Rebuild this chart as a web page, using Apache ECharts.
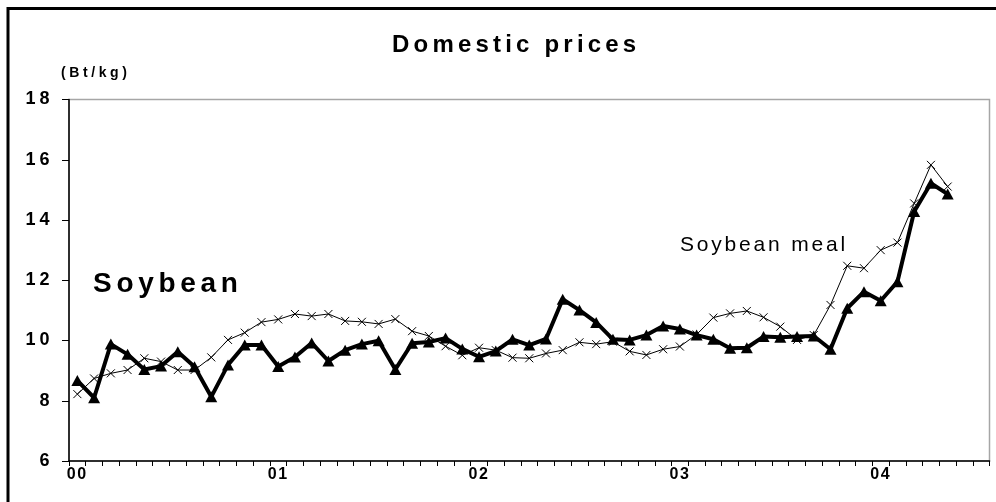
<!DOCTYPE html>
<html>
<head>
<meta charset="utf-8">
<script src="https://cdn.jsdelivr.net/npm/echarts@6/dist/echarts.min.js"></script>
<style>html,body{margin:0;padding:0;background:#fff;}#c{width:996px;height:502px;}</style>
</head>
<body>
<div id="c"></div>
<script>
// ---- data ----
const yearLabels = ['00', '01', '02', '03', '04'];
const monthsShown = 55; // Jan 2000 .. Jul 2004 on the axis
const soybean = [8.67, 8.10, 9.88, 9.54, 9.04, 9.15, 9.63, 9.13, 8.13, 9.19, 9.85, 9.85,
  9.14, 9.45, 9.92, 9.32, 9.68, 9.88, 9.99, 9.04, 9.91, 9.95, 10.08, 9.72,
  9.46, 9.65, 10.04, 9.85, 10.05, 11.37, 11.01, 10.60, 10.04, 10.02, 10.18, 10.48,
  10.38, 10.18, 10.04, 9.74, 9.76, 10.13, 10.11, 10.13, 10.15, 9.71, 11.07, 11.62,
  11.32, 11.95, 14.28, 15.22, 14.86];
const soybeanMeal = [8.22, 8.74, 8.91, 9.02, 9.41, 9.30, 9.02, 9.02, 9.44, 10.02, 10.26, 10.61,
  10.70, 10.88, 10.81, 10.88, 10.65, 10.62, 10.55, 10.71, 10.31, 10.15, 9.81, 9.51,
  9.76, 9.68, 9.43, 9.41, 9.57, 9.68, 9.94, 9.88, 9.96, 9.64, 9.52, 9.71,
  9.80, 10.20, 10.76, 10.90, 10.98, 10.77, 10.46, 10.02, 10.18, 11.18, 12.48, 12.40,
  13.00, 13.25, 14.55, 15.83, 15.11];
const yTicks = {min: 6, max: 18, interval: 2};

const categories = [];
for (let i = 0; i < monthsShown; i++) {
  categories.push(yearLabels[Math.floor(i / 12)] + '/' + (i % 12 + 1));
}

// ---- letter spacing for canvas text (by font size) ----
const spacingBySize = {24: 4.2, 28: 4.7, 21: 2.8, 14: 3.6, 16: 1.6, 18: 4};
(function () {
  const proto = CanvasRenderingContext2D.prototype;
  const d = Object.getOwnPropertyDescriptor(proto, 'font');
  if (!d || !('letterSpacing' in proto)) return;
  Object.defineProperty(proto, 'font', {
    configurable: true,
    get: function () { return d.get.call(this); },
    set: function (v) {
      d.set.call(this, v);
      const m = /(\d+(?:\.\d+)?)px/.exec(v);
      const s = m ? spacingBySize[Math.round(parseFloat(m[1]))] : 0;
      this.letterSpacing = (s || 0) + 'px';
    }
  });
})();

const FONT = "Liberation Sans";
const chart = echarts.init(document.getElementById('c'), null, {renderer: 'canvas'});
chart.setOption({
  backgroundColor: '#fff',
  animation: false,
  grid: {left: 69, right: 6.5, top: 99.5, bottom: 41, show: true, borderColor: '#a6a6a6', borderWidth: 1.5, backgroundColor: 'transparent'},
  xAxis: {
    type: 'category',
    data: categories,
    boundaryGap: true,
    axisLine: {show: true, lineStyle: {color: '#000', width: 1.5}},
    axisTick: {show: true, interval: 0, length: 5, lineStyle: {color: '#000', width: 1}},
    axisLabel: {
      interval: function (idx) { return idx % 12 === 0; },
      formatter: function (v) { return v.split('/')[0]; },
      color: '#000', fontFamily: FONT, fontWeight: 'bold', fontSize: 16, margin: 5
    },
    splitLine: {show: false}
  },
  yAxis: {
    type: 'value',
    min: yTicks.min, max: yTicks.max, interval: yTicks.interval,
    axisLine: {show: true, lineStyle: {color: '#000', width: 1.5}},
    axisTick: {show: true, length: 7, lineStyle: {color: '#000', width: 1}},
    axisLabel: {color: '#000', fontFamily: FONT, fontWeight: 'bold', fontSize: 18, margin: 15.5},
    splitLine: {show: false}
  },
  series: [
    {
      name: 'Soybean meal', type: 'line', data: soybeanMeal,
      symbol: 'path://M0,0L10,10M0,10L10,0', symbolSize: 8,
      lineStyle: {color: '#000', width: 1},
      itemStyle: {color: 'transparent', borderColor: '#000', borderWidth: 1},
      z: 2
    },
    {
      name: 'Soybean', type: 'line', data: soybean,
      symbol: 'triangle', symbolSize: [12, 11],
      lineStyle: {color: '#000', width: 4},
      itemStyle: {color: '#000'},
      z: 3
    }
  ],
  graphic: [
    {type: 'rect', shape: {x: 8, y: 8.5, width: 1100, height: 600}, style: {fill: 'none', stroke: '#000', lineWidth: 3}, silent: true, z: 100},
    {type: 'text', x: 392, y: 45.5, style: {text: 'Domestic prices', font: "bold 24px " + FONT, fill: '#000', align: 'left', verticalAlign: 'middle'}},
    {type: 'text', x: 61, y: 73.5, style: {text: '(Bt/kg)', font: "bold 14px " + FONT, fill: '#000', align: 'left', verticalAlign: 'middle'}},
    {type: 'text', x: 93, y: 284, style: {text: 'Soybean', font: "bold 28px " + FONT, fill: '#000', align: 'left', verticalAlign: 'middle'}},
    {type: 'text', x: 680, y: 245.5, style: {text: 'Soybean meal', font: "21px " + FONT, fill: '#000', align: 'left', verticalAlign: 'middle'}}
  ]
});
</script>
</body>
</html>
